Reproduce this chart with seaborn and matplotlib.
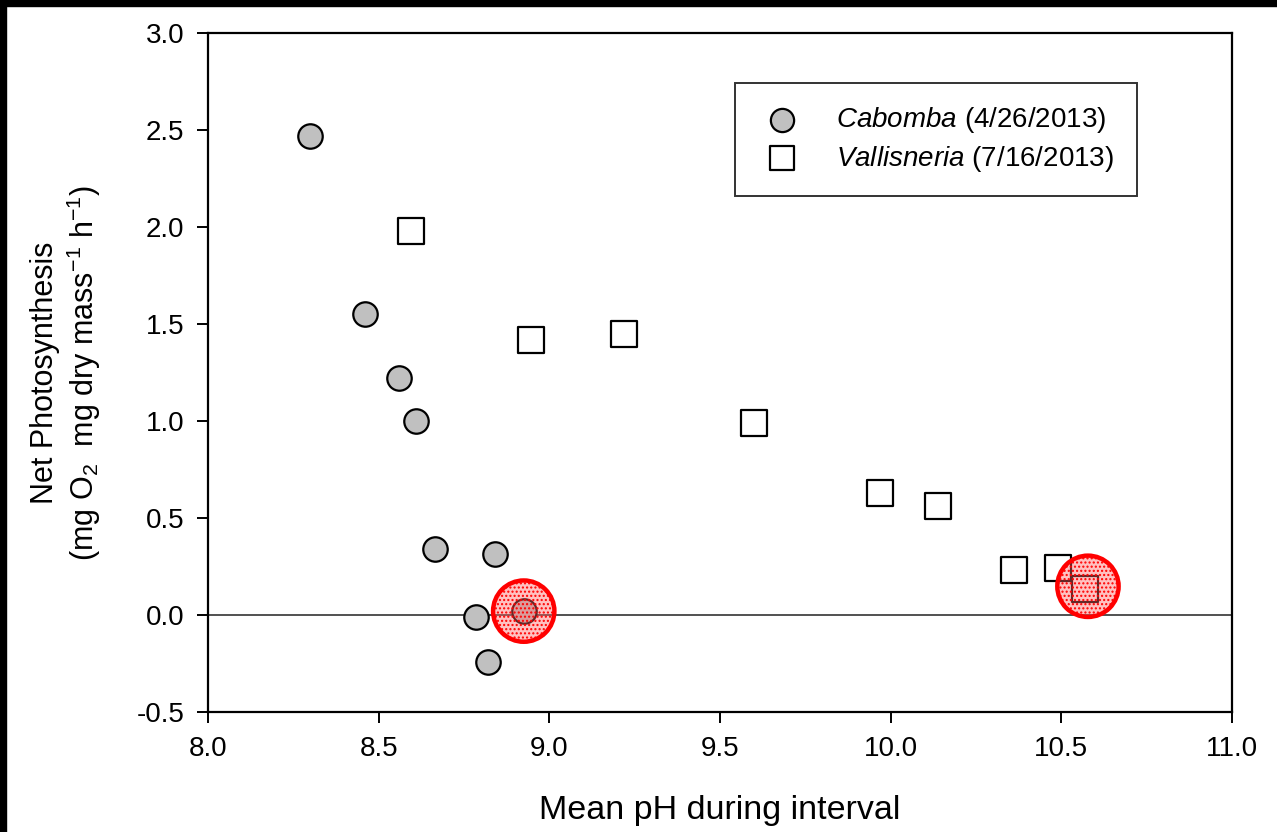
import matplotlib
matplotlib.use("Agg")
import matplotlib.pyplot as plt
import seaborn as sns
import pandas as pd
from matplotlib.patches import Rectangle

# Data
cab_ph = [8.30, 8.46, 8.56, 8.61, 8.665, 8.84, 8.785, 8.82, 8.925]
cab_ps = [2.47, 1.55, 1.22, 1.00, 0.34, 0.315, -0.01, -0.24, 0.02]
val_ph = [8.595, 8.945, 9.22, 9.60, 9.97, 10.14, 10.36, 10.49, 10.57]
val_ps = [1.98, 1.42, 1.45, 0.99, 0.63, 0.56, 0.23, 0.24, 0.135]
hl_ph = [8.925, 10.578]
hl_ps = [0.02, 0.148]
xticks = [8.0, 8.5, 9.0, 9.5, 10.0, 10.5, 11.0]
yticks = [-0.5, 0.0, 0.5, 1.0, 1.5, 2.0, 2.5, 3.0]

sns.set_theme(style="ticks")
plt.rcParams["font.family"] = ["Liberation Sans", "DejaVu Sans"]
plt.rcParams["mathtext.fontset"] = "custom"
plt.rcParams["mathtext.rm"] = "Liberation Sans"
plt.rcParams["mathtext.it"] = "Liberation Sans:italic"
plt.rcParams["text.color"] = "black"
plt.rcParams["axes.labelcolor"] = "black"
plt.rcParams["hatch.color"] = (1.0, 0.3, 0.3, 0.6)

cab = pd.DataFrame({"pH": cab_ph, "PS": cab_ps})
val = pd.DataFrame({"pH": val_ph, "PS": val_ps})
hl = pd.DataFrame({"pH": hl_ph, "PS": hl_ps})

fig = plt.figure(figsize=(12.77, 8.32), dpi=100)
ax = fig.add_axes([208/1277, 1-712/832, 1024/1277, 679/832])

ax.axhline(0, color="#333333", lw=1.2, zorder=1)

sns.scatterplot(data=cab, x="pH", y="PS", ax=ax, marker="o", s=310,
                color="#c0c0c0", edgecolor="black", linewidth=1.6, zorder=3,
                label=r"$\it{Cabomba}$ (4/26/2013)")
sns.scatterplot(data=val, x="pH", y="PS", ax=ax, marker="s", s=330,
                color="white", edgecolor="black", linewidth=1.6, zorder=3,
                label=r"$\it{Vallisneria}$ (7/16/2013)")
ax.scatter(hl["pH"], hl["PS"], s=1950, facecolor=(1.0, 0.4, 0.4, 0.4),
           edgecolor="#ff0000", linewidth=3.2, hatch="....", zorder=4)

ax.set_xlim(8.0, 11.0)
ax.set_ylim(-0.5, 3.0)
ax.set_xticks(xticks)
ax.set_xticklabels([f"{t:.1f}" for t in xticks])
ax.set_yticks(yticks)
ax.set_yticklabels([f"{t:.1f}" for t in yticks])
ax.tick_params(direction="out", length=8, width=1.4, labelsize=20,
               colors="black", pad=9, top=False, right=False)
for sp in ax.spines.values():
    sp.set_visible(True)
    sp.set_color("black")
    sp.set_linewidth(1.6)

ax.set_xlabel("Mean pH during interval", fontsize=24.5, labelpad=24)
ax.set_ylabel("Net Photosynthesis\n" + r"(mg O$_2$  mg dry mass$^{-1}$ h$^{-1}$)",
              fontsize=22, labelpad=24, linespacing=1.15)

leg = ax.legend(loc="upper left", bbox_to_anchor=(527/1024, 1 - 50/679),
                fontsize=20, frameon=True, fancybox=False, edgecolor="black",
                borderpad=0.8, handlelength=1.8, handletextpad=1.05,
                labelspacing=0.3, borderaxespad=0, markerscale=0.95)
leg.get_frame().set_linewidth(1.4)
leg.set_zorder(5)

fig.patches.append(Rectangle((0, 1-6/832), 1, 6/832, transform=fig.transFigure,
                             color="black", zorder=10))
fig.patches.append(Rectangle((0, 0), 6/1277, 1, transform=fig.transFigure,
                             color="black", zorder=10))

fig.savefig("out.png", dpi=100)
